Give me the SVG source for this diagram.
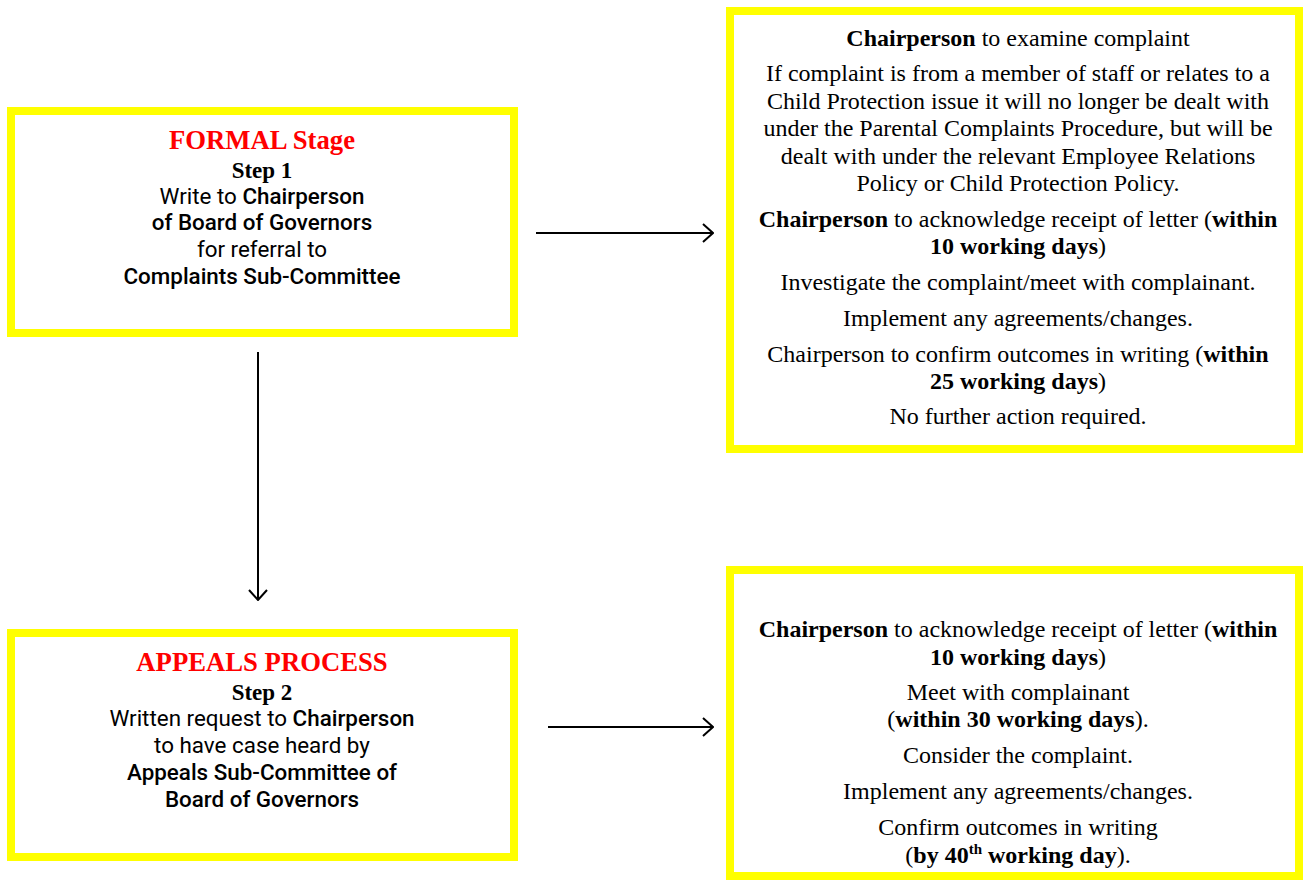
<svg xmlns="http://www.w3.org/2000/svg" width="1304" height="880" viewBox="0 0 1304 880">
<style>
.box{fill:#fff;stroke:#ffff00;stroke-width:8}
.ser{font-family:"Liberation Serif","Times New Roman",serif;font-size:24px;fill:#000;text-anchor:middle}
.sans{font-family:Roboto,"Liberation Sans",sans-serif;font-size:22.4px;fill:#000;text-anchor:middle}
.med{font-weight:500}
.title{font-family:"Liberation Serif","Times New Roman",serif;font-size:26.7px;font-weight:bold;fill:#ff0000;text-anchor:middle}
.step{font-family:"Liberation Serif","Times New Roman",serif;font-size:23px;font-weight:bold;fill:#000;text-anchor:middle}
.b{font-weight:bold}
.conn{stroke:#000;stroke-width:2;fill:none}
</style>
<defs>
<marker id="arr" viewBox="0 0 12 20" refX="11" refY="10" markerWidth="12" markerHeight="20" markerUnits="userSpaceOnUse" orient="auto">
<path d="M1,1 L11,10 L1,19" fill="none" stroke="#000" stroke-width="2"/>
</marker>
</defs>
<g id="formal">
<rect class="box" x="11" y="111" width="503" height="222"/>
<text class="title" x="262" y="149">FORMAL Stage</text>
<text class="step" x="262" y="178">Step 1</text>
<text class="sans" x="262" y="204">Write to <tspan class="med">Chairperson</tspan></text>
<text class="sans med" x="262" y="230">of Board of Governors</text>
<text class="sans" x="262" y="257">for referral to</text>
<text class="sans med" x="262" y="284">Complaints Sub-Committee</text>
</g>
<g id="appeals">
<rect class="box" x="11" y="633" width="503" height="224"/>
<text class="title" x="262" y="671">APPEALS PROCESS</text>
<text class="step" x="262" y="700">Step 2</text>
<text class="sans" x="262" y="726">Written request to <tspan class="med">Chairperson</tspan></text>
<text class="sans" x="262" y="753">to have case heard by</text>
<text class="sans med" x="262" y="780">Appeals Sub-Committee of</text>
<text class="sans med" x="262" y="807">Board of Governors</text>
</g>
<g id="formal-detail">
<rect class="box" x="730" y="11" width="569" height="438"/>
<text class="ser" x="1018" y="46"><tspan class="b">Chairperson</tspan> to examine complaint</text>
<text class="ser" x="1018" y="81">If complaint is from a member of staff or relates to a</text>
<text class="ser" x="1018" y="109">Child Protection issue it will no longer be dealt with</text>
<text class="ser" x="1018" y="136">under the Parental Complaints Procedure, but will be</text>
<text class="ser" x="1018" y="164">dealt with under the relevant Employee Relations</text>
<text class="ser" x="1018" y="191">Policy or Child Protection Policy.</text>
<text class="ser" x="1018" y="227"><tspan class="b">Chairperson</tspan> to acknowledge receipt of letter (<tspan class="b">within</tspan></text>
<text class="ser" x="1018" y="254"><tspan class="b">10 working days</tspan>)</text>
<text class="ser" x="1018" y="290">Investigate the complaint/meet with complainant.</text>
<text class="ser" x="1018" y="326">Implement any agreements/changes.</text>
<text class="ser" x="1018" y="362">Chairperson to confirm outcomes in writing (<tspan class="b">within</tspan></text>
<text class="ser" x="1018" y="389"><tspan class="b">25 working days</tspan>)</text>
<text class="ser" x="1018" y="424">No further action required.</text>
</g>
<g id="appeals-detail">
<rect class="box" x="730" y="570" width="569" height="306"/>
<text class="ser" x="1018" y="637"><tspan class="b">Chairperson</tspan> to acknowledge receipt of letter (<tspan class="b">within</tspan></text>
<text class="ser" x="1018" y="665"><tspan class="b">10 working days</tspan>)</text>
<text class="ser" x="1018" y="700">Meet with complainant</text>
<text class="ser" x="1018" y="727">(<tspan class="b">within 30 working days</tspan>).</text>
<text class="ser" x="1018" y="763">Consider the complaint.</text>
<text class="ser" x="1018" y="799">Implement any agreements/changes.</text>
<text class="ser" x="1018" y="835">Confirm outcomes in writing</text>
<text class="ser" x="1018" y="863">(<tspan class="b">by 40<tspan font-size="15" dy="-9">th</tspan><tspan dy="9"> working day</tspan></tspan>).</text>
</g>
<g id="connectors">
<line class="conn" x1="536" y1="233" x2="713" y2="233" marker-end="url(#arr)"/>
<line class="conn" x1="258" y1="352" x2="258" y2="600" marker-end="url(#arr)"/>
<line class="conn" x1="548" y1="727" x2="713" y2="727" marker-end="url(#arr)"/>
</g>
</svg>
